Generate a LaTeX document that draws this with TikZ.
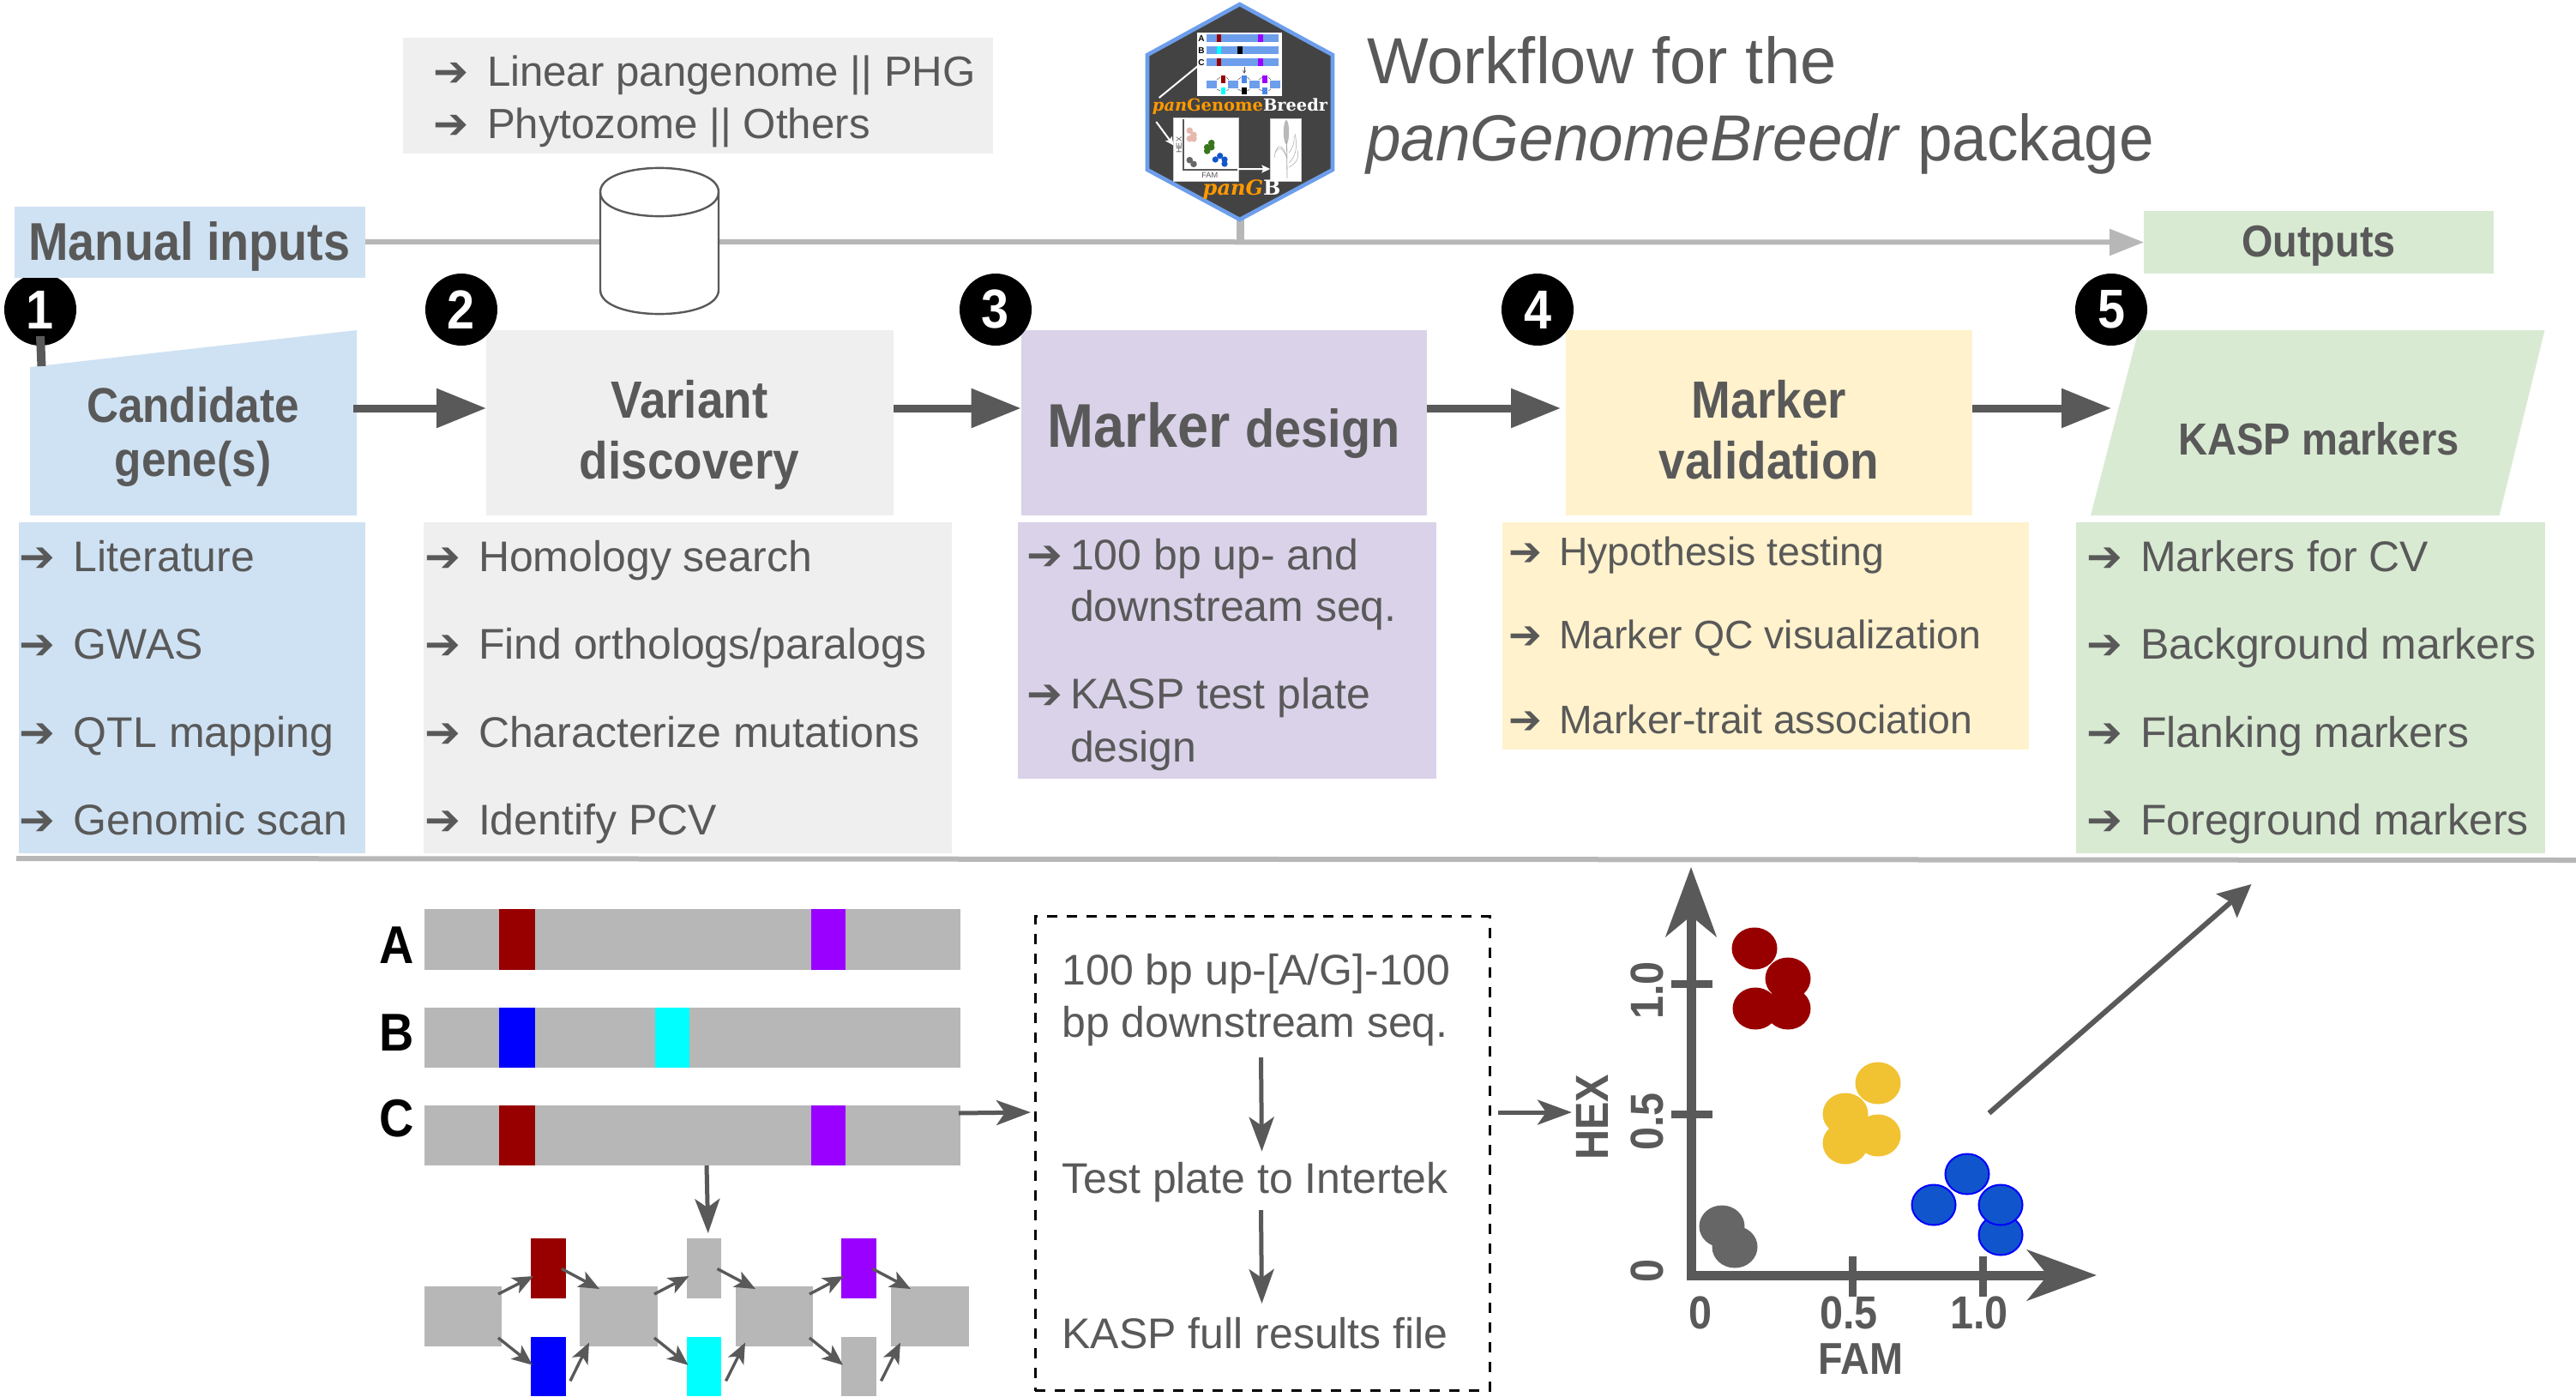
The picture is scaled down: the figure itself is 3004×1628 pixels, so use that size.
\documentclass[tikz,border=0pt]{standalone}
\usepackage{fontspec}
\setmainfont{Liberation Sans}
\newfontfamily\hd[FakeStretch=0.9]{Liberation Sans}
\newfontfamily\ttl[FakeStretch=0.96]{Liberation Sans}
\newfontfamily\djv{DejaVu Sans}
\newfontfamily\djse{DejaVu Serif}
\usetikzlibrary{arrows.meta,fit,calc}
\definecolor{ink}{HTML}{595959}
\definecolor{rule}{HTML}{B7B7B7}
\definecolor{cblue}{HTML}{CFE2F3}
\definecolor{cgray}{HTML}{EFEFEF}
\definecolor{cpurp}{HTML}{D9D2E9}
\definecolor{cyell}{HTML}{FFF2CC}
\definecolor{cgreen}{HTML}{D9EAD3}
\definecolor{dred}{HTML}{980000}
\definecolor{vio}{HTML}{9900FF}
\definecolor{gold}{HTML}{F1C232}
\definecolor{mblue}{HTML}{1155CC}
\definecolor{dgray}{HTML}{666666}
\definecolor{hexb}{HTML}{6D9EEB}
\definecolor{hexf}{HTML}{434343}
\definecolor{orng}{HTML}{FF9900}
\definecolor{bar}{HTML}{B7B7B7}
\definecolor{lpink}{HTML}{E6B8AF}
\definecolor{lgreen}{HTML}{38761D}
\definecolor{acyan}{HTML}{00FFFF}
\definecolor{ablue}{HTML}{0000FF}
\definecolor{lblue}{HTML}{4A86E8}
\tikzset{
 bigarrow/.style={draw=ink,line width=4.5pt,-{Triangle[length=29pt,width=22pt]}},
 midarrow/.style={draw=ink,line width=2.5pt,-{Stealth[length=20pt,width=14.5pt,inset=5pt]}},
 smallarrow/.style={draw=ink,line width=1.7pt,-{Stealth[length=12pt,width=10pt,inset=3pt]}},
 axisline/.style={draw=ink,line width=5.5pt},
 tick/.style={draw=ink,line width=4.5pt},
 txt/.style={text=ink,inner sep=0pt,outer sep=0pt},
 head/.style={text=ink,inner sep=0pt,align=center,font=\hd\bfseries},
 num/.style={circle,fill=black,text=white,minimum size=42pt,inner sep=0pt,font=\hd\bfseries\fontsize{32}{32}\selectfont},
 box/.style={inner sep=0pt,outer sep=0pt,draw=none},
 logotxt/.style={inner sep=0pt,font=\djse\bfseries\fontsize{9.7}{10}\selectfont}
}
\newcommand{\xbox}[6]{\node[box,fill=#6,fit={(#2,#3)(#4,#5)}] (#1) {};}
\newcommand{\lt}[5][25]{\node[txt,anchor=base west,font=\fontsize{#1}{#1}\selectfont] (#2) at (#3,#4) {#5};}
\newcommand{\pitem}[6][31.5pt]{\node[txt,anchor=base west,font=\fontsize{#2}{#2}\selectfont] (#3) at (#4,#5) {\makebox[#1][l]{\djv\bfseries ➔}#6};}
\begin{document}
\begin{tikzpicture}[x=0.5pt,y=-0.5pt]
\useasboundingbox (0,0) rectangle (3004,1628);
% top gray box
\xbox{topbox}{470}{44}{1158}{179}{cgray}
\pitem{24.6}{t1}{505}{100}{Linear pangenome || PHG}
\pitem{24.6}{t2}{505}{161}{Phytozome || Others}
% main rule
\coordinate (linestart) at (426,282);
\xbox{outbox}{2500}{246}{2908}{319}{cgreen}
\draw[draw=rule,line width=3pt,-{Triangle[length=20pt,width=15pt]}] (linestart) -- (outbox.west);
% cylinder
\node[box,minimum width=69pt,minimum height=85pt] (cyl) at (769,281) {};
\draw[draw=ink,fill=white,line width=1.2pt] (700,224) -- (700,338) .. controls (700,375.5) and (838,375.5) .. (838,338) -- (838,224) .. controls (838,186.5) and (700,186.5) .. (700,224) -- cycle;
\draw[draw=ink,line width=1.2pt] (700,224) .. controls (700,261.5) and (838,261.5) .. (838,224);
% hex stem and hexagon
\coordinate (stemfoot) at (1446,282);
\coordinate (stemtop) at (1446,255);
\draw[draw=rule,line width=4.5pt] (stemtop) -- (stemfoot);
\draw[draw=hexb,fill=hexf,line width=2.3pt,line join=miter] (1445.7,5) -- (1554,64) -- (1554,198) -- (1445.7,256) -- (1338,198) -- (1338,64) -- cycle;
% logo upper panel
\fill[white] (1396,38.3) rectangle (1494.7,111.7);
\foreach \y in {40,54,68.3} {\fill[hexb] (1407.3,\y) rectangle (1491.3,\y+9);}
\fill[dred] (1418.7,40) rectangle (1424.3,49);
\fill[vio] (1467.3,40) rectangle (1473,49);
\fill[acyan] (1418.7,54) rectangle (1424.3,63);
\fill[black] (1443,54) rectangle (1448.7,63);
\fill[dred] (1418.7,68.3) rectangle (1424.3,77.3);
\fill[vio] (1467.3,68.3) rectangle (1473,77.3);
\node[inner sep=0pt,font=\bfseries\fontsize{5}{5}\selectfont] (la) at (1401,45) {A};
\node[inner sep=0pt,font=\bfseries\fontsize{5}{5}\selectfont] (lb) at (1401,59) {B};
\node[inner sep=0pt,font=\bfseries\fontsize{5}{5}\selectfont] (lc) at (1401,73) {C};
\foreach \x in {1407.3,1432,1457,1481} {\fill[hexb] (\x,94.3) rectangle (\x+11.5,103);}
\fill[dred] (1423.7,87.7) rectangle (1429.3,96.7);
\fill[lblue] (1448,87.7) rectangle (1453.7,96.7);
\fill[vio] (1472.3,87.7) rectangle (1478,96.7);
\fill[acyan] (1423.7,102) rectangle (1429.3,110.3);
\fill[black] (1448,102) rectangle (1453.7,110.3);
\fill[lblue] (1472.3,102) rectangle (1478,110.3);
\draw[ink,line width=.35pt,-{Stealth[length=2pt,width=2pt]}] (1451,78) -- (1451,86);
\foreach \x in {1419,1443.5,1468} {
 \draw[ink,line width=.25pt] (\x,93) -- (\x+4,90);
 \draw[ink,line width=.25pt] (\x+11,90) -- (\x+14,93);
 \draw[ink,line width=.25pt] (\x,104) -- (\x+4,106);
 \draw[ink,line width=.25pt] (\x+11,106) -- (\x+14,104);
}
\coordinate (lg1) at (1351.7,114);
\draw[white,line width=1pt] (lc.south west) -- (lg1);
\node[logotxt,anchor=base] (lname) at (1446,129) {\textcolor{orng}{\itshape pan}\textcolor{orng}{Genome}\textcolor{white}{Breedr}};
\node[box,fill=white,minimum width=38pt,minimum height=36.7pt,draw=gray!40,line width=.3pt] (lscat) at (1406.7,174.3) {};
\node[box,fill=white,minimum width=18.2pt,minimum height=36.4pt,draw=gray!40,line width=.3pt] (lplant) at (1499.5,174.6) {};
\coordinate (lg2) at (1348.3,142);
\draw[white,line width=1pt,-{Stealth[length=5pt,width=4.5pt,inset=1pt]}] (lg2) -- (lscat.173);
\draw[white,line width=1pt,-{Stealth[length=5pt,width=4.5pt,inset=1pt]}] ($(lscat.south east)+(-2,-14)$) -- (lplant.west |- 0,197);
\draw[ink,line width=.8pt] (1380,139) -- (1380,198) -- (1443,198);
\foreach \x/\y in {1387.3/152.3,1392/157.3,1387.3/161.7,1392/161.7} {\fill[lpink] (\x,\y) circle (3.8);}
\foreach \x/\y in {1412.7/166.7,1407.7/171.7,1407.7/176,1412.7/171.7} {\fill[lgreen] (\x,\y) circle (3.8);}
\foreach \x/\y in {1422.7/181.7,1417.3/186,1428/186,1428/191} {\fill[mblue] (\x,\y) circle (3.6);}
\foreach \x/\y in {1387.3/186.7,1392/191.3} {\fill[dgray] (\x,\y) circle (3.8);}
\node[inner sep=0pt,text=ink,rotate=90,font=\fontsize{4.6}{5}\selectfont] (lhex) at (1375,169.3) {HEX};
\node[inner sep=0pt,text=ink,font=\fontsize{4.6}{5}\selectfont] (lfam) at (1410.7,204.7) {FAM};
% logo plant
\fill[gray!55] (1500,154) ellipse (3.2 and 14);
\draw[gray!70,line width=.4pt] (1500.5,165) -- (1501,208);
\draw[gray!70,line width=.25pt] (1501,184) .. controls (1495,165) and (1488,168) .. (1486,184);
\draw[gray!70,line width=.25pt] (1501,185) .. controls (1496,172) and (1492,170) .. (1487,178);
\draw[gray!70,line width=.25pt] (1503,190) .. controls (1514,180) and (1512,165) .. (1510,156);
\draw[gray!70,line width=.25pt] (1503,195) .. controls (1512,190) and (1515,185) .. (1513,175);
\draw[gray!70,line width=.25pt] (1503,178) .. controls (1508,172) and (1510,165) .. (1509,158);
\node[logotxt,anchor=base,font=\djse\bfseries\fontsize{12}{12}\selectfont] (lshort) at (1448,227) {\textcolor{orng}{\itshape panG}\textcolor{white}{B}};
% heading
\node[txt,anchor=base west,font=\fontsize{38}{38}\selectfont] (title1) at (1594,97) {Workflow for the};
\node[txt,anchor=base west,font=\ttl\fontsize{38}{38}\selectfont] (title2) at (1593,187) {\itshape panGenomeBreedr\/\upshape{} package};
% step boxes
\node[box,fit={(35,385)(416,601)}] (cand) {};
\fill[cblue] (35,428) -- (416,385) -- (416,601) -- (35,601) -- cycle;
\xbox{var}{567}{385}{1042}{601}{cgray}
\xbox{des}{1190.6}{385}{1663.5}{601}{cpurp}
\xbox{val}{1826}{385}{2300}{601}{cyell}
\node[box,fit={(2438,385)(2967.5,601)}] (kasp) {};
\fill[cgreen] (2494,385) -- (2967.5,385) -- (2914.6,601) -- (2438,601) -- cycle;
\node[head,anchor=base,font=\hd\bfseries\fontsize{28.5}{28.5}\selectfont] (cand1) at (225,492) {Candidate};
\node[head,anchor=base,font=\hd\bfseries\fontsize{28.5}{28.5}\selectfont] (cand2) at (225,555) {gene(s)};
\node[head,anchor=base,font=\hd\bfseries\fontsize{30.5}{30.5}\selectfont] (var1) at (804,487) {Variant};
\node[head,anchor=base,font=\hd\bfseries\fontsize{30.5}{30.5}\selectfont] (var2) at (804,558) {discovery};
\node[head,anchor=base,font=\hd\bfseries\fontsize{30.5}{30.5}\selectfont] (val1) at (2063,487) {Marker};
\node[head,anchor=base,font=\hd\bfseries\fontsize{30.5}{30.5}\selectfont] (val2) at (2063,558) {validation};
\node[head,anchor=base,font=\hd\bfseries\fontsize{36}{36}\selectfont] (des1) at (1427,521) {Marker \fontsize{31}{31}\selectfont design};
\node[head,anchor=base,font=\hd\bfseries\fontsize{26.2}{26.2}\selectfont] (kasp1) at (2704,530) {KASP markers};
\node[head,anchor=base,font=\hd\bfseries\fontsize{26}{26}\selectfont] (outl) at (2704,299) {Outputs};
% step arrows
\coordinate (c1) at (412,476);
\draw[bigarrow] (c1) -- (var.west |- c1);
\draw[bigarrow] (var.east |- c1) -- (des.west |- c1);
\draw[bigarrow] (des.east |- c1) -- ($(val.west |- c1)+(-6,0)$);
\draw[bigarrow] (val.east |- c1) -- ($(kasp.west |- c1)+(24,0)$);
% numbers
\node[num] (n1) at (47,361) {1};
\node[num] (n2) at (538,361) {2};
\node[num] (n3) at (1161,361) {3};
\node[num] (n4) at (1793,361) {4};
\node[num] (n5) at (2462,361) {5};
\coordinate (n1foot) at (48.5,427);
\draw[draw=ink,line width=5pt] (n1.center |- 0,392) -- (n1foot);
% manual inputs
\xbox{inbox}{17}{241}{426}{324}{cblue}
\node[head,anchor=base,font=\hd\bfseries\fontsize{31}{31}\selectfont] (inl) at (221,303) {Manual inputs};
% panels
\xbox{p1}{22}{609}{426}{995}{cblue}
\xbox{p2}{494}{609}{1110}{995}{cgray}
\xbox{p3}{1187}{609}{1675}{908}{cpurp}
\xbox{p4}{1752}{609}{2366}{874}{cyell}
\xbox{p5}{2421}{609}{2967.5}{995}{cgreen}
\pitem{25}{a1}{23}{666}{Literature}
\pitem{25}{a2}{23}{768}{GWAS}
\pitem{25}{a3}{23}{871}{QTL mapping}
\pitem{25}{a4}{23}{973}{Genomic scan}
\pitem{25}{b1}{495}{666}{Homology search}
\pitem{25}{b2}{495}{768}{Find orthologs/paralogs}
\pitem{25}{b3}{495}{871}{Characterize mutations}
\pitem{25}{b4}{495}{973}{Identify PCV}
\pitem[25.5pt]{25}{c1t}{1197}{664}{100 bp up- and}
\lt{c2t}{1248}{724}{downstream seq.}
\pitem[25.5pt]{25}{c3t}{1197}{826}{KASP test plate}
\lt{c4t}{1248}{888}{design}
\pitem[29.5pt]{23.2}{d1}{1759}{659}{Hypothesis testing}
\pitem[29.5pt]{23.2}{d2}{1759}{756}{Marker QC visualization}
\pitem[29.5pt]{23.2}{d3}{1759}{855}{Marker-trait association}
\pitem{25}{e1}{2433}{666}{Markers for CV}
\pitem{25}{e2}{2433}{768}{Background markers}
\pitem{25}{e3}{2433}{871}{Flanking markers}
\pitem{25}{e4}{2433}{973}{Foreground markers}
% separator
\coordinate (sepl) at (19,1001);
\coordinate (sepr) at (3004,1003);
\draw[draw=rule,line width=3pt] (sepl) -- (sepr);
% bars
\xbox{barA}{495}{1060}{1120}{1130.5}{bar}
\xbox{barB}{495}{1174.5}{1120}{1244.5}{bar}
\xbox{barC}{495}{1289}{1120}{1359}{bar}
\xbox{ra}{582}{1060}{623.6}{1130.5}{dred}
\xbox{va}{945.5}{1060}{986}{1130.5}{vio}
\xbox{bb}{582}{1174.5}{623.6}{1244.5}{ablue}
\xbox{cb}{764}{1174.5}{804}{1244.5}{acyan}
\xbox{rc}{582}{1289}{623.6}{1359}{dred}
\xbox{vc}{945.5}{1289}{986}{1359}{vio}
\node[inner sep=0pt,anchor=base,font=\hd\bfseries\fontsize{31}{31}\selectfont] (lA) at (463,1123) {A};
\node[inner sep=0pt,anchor=base,font=\hd\bfseries\fontsize{31}{31}\selectfont] (lB) at (463,1225) {B};
\node[inner sep=0pt,anchor=base,font=\hd\bfseries\fontsize{31}{31}\selectfont] (lC) at (463,1325) {C};
% graph
\xbox{g1}{495}{1500}{585}{1569.5}{bar}
\xbox{g2}{676}{1500}{767}{1569.5}{bar}
\xbox{g3}{858}{1500}{948}{1569.5}{bar}
\xbox{g4}{1039}{1500}{1130}{1569.5}{bar}
\xbox{t1b}{619}{1444}{659.5}{1514}{dred}
\xbox{t2b}{800.5}{1444}{841}{1514}{bar}
\xbox{t3b}{981}{1444}{1022}{1514}{vio}
\xbox{u1b}{619}{1558.5}{659.5}{1628}{ablue}
\xbox{u2b}{800.5}{1558.5}{841}{1628}{acyan}
\xbox{u3b}{981}{1558.5}{1022}{1628}{bar}
\foreach \i/\j in {1/2,2/3,3/4} {
 \draw[smallarrow] ($(g\i.north east)+(-4,9)$) -- ($(t\i b.south west)+(3,-26)$);
 \draw[smallarrow] ($(t\i b.east)+(-4.5,0.5)$) -- ($(g\j.north west)+(23,3)$);
 \draw[smallarrow] ($(g\i.south east)+(-4,-9.5)$) -- ($(u\i b.west)+(2,-1.5)$);
 \draw[smallarrow] ($(u\i b.east)+(5.5,17)$) -- ($(g\j.south west)+(11,-4)$);
}
\draw[midarrow] (barC.south -| 824,0) -- ($(t2b.north)+(5,-6)$);
% dashed box
\node[box,draw=black,line width=1.5pt,dash pattern=on 6pt off 5.5pt,fit={(1207,1068.5)(1737,1621.5)}] (dbox) {};
\draw[midarrow] ($(barC.north east)+(-2,9)$) -- ($(dbox.west |- 0,1297)+(-5,0)$);
\lt{dt1}{1238.5}{1148}{100 bp up-[A/G]-100}
\lt{dt2}{1238.5}{1209}{bp downstream seq.}
\lt{dt3}{1238.5}{1391}{Test plate to Intertek}
\lt{dt4}{1238.5}{1572}{KASP full results file}
\coordinate (da1) at (1470.5,1233);
\coordinate (da2) at (1471.5,1342.6);
\coordinate (da3) at (1470.5,1411);
\coordinate (da4) at (1471.5,1520);
\draw[midarrow] (da1) -- (da2);
\draw[midarrow] (da3) -- (da4);
\coordinate (plotin) at (1833,1297);
\draw[midarrow] ($(dbox.east |- plotin)+(10,0)$) -- (plotin);
% plot
\foreach \x/\y in {2046/1106,2085/1141,2047/1176,2085/1176} {\fill[dred] (\x,\y) ellipse (26.5 and 24.5);}
\foreach \x/\y in {2190/1263,2152/1299,2152/1333,2190/1324} {\fill[gold] (\x,\y) ellipse (26.5 and 24.5);}
\foreach \x/\y in {2008/1430,2023/1454} {\fill[dgray] (\x,\y) ellipse (26.5 and 24.5);}
\foreach \x/\y in {2294/1369,2255/1405,2333/1440,2333/1405} {\filldraw[fill=mblue,draw=ablue,line width=1pt] (\x,\y) ellipse (25.5 and 23.5);}
\coordinate (org) at (1972,1487);
\coordinate (ytip) at (1972,1011);
\coordinate (xtip) at (2445,1487);
\draw[axisline,-{Stealth[length=40.5pt,width=29.5pt,inset=12pt]}] ($(org)+(0,6)$) -- (ytip);
\draw[axisline,-{Stealth[length=40.5pt,width=29.5pt,inset=12pt]}] ($(org)+(-5.5,0)$) -- (xtip);
\coordinate (tyA) at (1949,1147); \coordinate (tyB) at (1997,1147);
\coordinate (tzA) at (1949,1299); \coordinate (tzB) at (1997,1299);
\coordinate (txA) at (2160.5,1465); \coordinate (txB) at (2160.5,1512);
\coordinate (twA) at (2312.6,1465); \coordinate (twB) at (2312.6,1512);
\draw[tick] (tyA) -- (tyB);
\draw[tick] (tzA) -- (tzB);
\draw[tick] (txA) -- (txB);
\draw[tick] (twA) -- (twB);
\node[head,font=\hd\bfseries\fontsize{27}{27}\selectfont] (x0) at (1982.5,1531) {0};
\node[head,font=\hd\bfseries\fontsize{27}{27}\selectfont] (x5) at (2156,1531) {0.5};
\node[head,font=\hd\bfseries\fontsize{27}{27}\selectfont] (x1) at (2308,1531) {1.0};
\node[head,font=\hd\bfseries\fontsize{26}{26}\selectfont] (xl) at (2170,1584.5) {FAM};
\node[head,rotate=90,font=\hd\bfseries\fontsize{27}{27}\selectfont] (y0) at (1921,1482) {0};
\node[head,rotate=90,font=\hd\bfseries\fontsize{27}{27}\selectfont] (y5) at (1921,1308) {0.5};
\node[head,rotate=90,font=\hd\bfseries\fontsize{27}{27}\selectfont] (y1) at (1921,1155) {1.0};
\node[head,rotate=90,font=\hd\bfseries\fontsize{27}{27}\selectfont] (yl) at (1857,1303) {HEX};
\coordinate (da5) at (2319.5,1298);
\coordinate (da6) at (2625.5,1031);
\draw[draw=ink,line width=3pt,-{Stealth[length=19pt,width=18pt,inset=3pt]}] (da5) -- (da6);
\end{tikzpicture}
\end{document}
